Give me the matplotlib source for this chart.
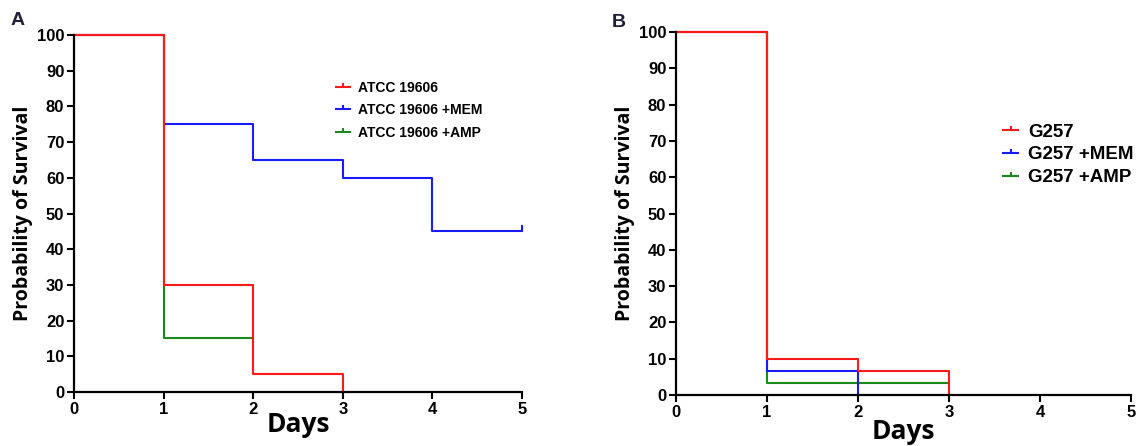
import matplotlib
matplotlib.use("Agg")
import matplotlib.pyplot as plt
from matplotlib.path import Path
from matplotlib.lines import Line2D

# panel A data (days, % survival)
a_days_ctrl = [0, 1, 2, 3]
a_surv_ctrl = [100, 30, 5, 0]
a_days_mem = [0, 1, 2, 3, 4, 5]
a_surv_mem = [100, 75, 65, 60, 45, 45]
a_days_amp = [0, 1, 2]
a_surv_amp = [100, 15, 15]
a_names = ["ATCC 19606", "ATCC 19606 +MEM", "ATCC 19606 +AMP"]

# panel B data
b_days_ctrl = [0, 1, 2, 3]
b_surv_ctrl = [100, 10, 6.67, 0]
b_days_mem = [0, 1, 2]
b_surv_mem = [100, 6.67, 0]
b_days_amp = [0, 1, 3]
b_surv_amp = [100, 3.33, 3.33]
b_names = ["G257", "G257 +MEM", "G257 +AMP"]

colors = ["#ff1a1a", "#1a1aff", "#1a8a1a"]
x_ticks = [0, 1, 2, 3, 4, 5]
y_ticks = list(range(0, 101, 10))

# upward censor tick marker
tick_up = Path([(0, 0), (0, 1)], [Path.MOVETO, Path.LINETO])

fig = plt.figure(figsize=(11.37, 4.46), dpi=100)
axA = fig.add_axes([0.0651, 0.121, 0.394, 0.8005])
axB = fig.add_axes([0.5946, 0.1143, 0.4001, 0.8137])


def style_axes(ax, tick_size, xpad):
    ax.set_xlim(0, 5)
    ax.set_ylim(0, 100)
    ax.set_xticks(x_ticks)
    ax.set_yticks(y_ticks)
    for s in ["top", "right"]:
        ax.spines[s].set_visible(False)
    for s in ["left", "bottom"]:
        ax.spines[s].set_linewidth(1.6)
    ax.tick_params(direction="out", length=5, width=1.5, pad=2)
    for lab in ax.get_xticklabels() + ax.get_yticklabels():
        lab.set_fontfamily("Liberation Sans")
        lab.set_fontweight("bold")
        lab.set_fontsize(tick_size)
    ax.set_xlabel("Days", fontfamily="Open Sans", fontweight="bold", fontsize=19, labelpad=xpad)
    ax.set_ylabel("Probability of Survival", fontfamily="Open Sans", fontweight="bold", fontsize=14, labelpad=3)


# panel A
axA.step(a_days_amp, a_surv_amp, where="post", color=colors[2], lw=1.5, clip_on=False)
axA.step(a_days_mem, a_surv_mem, where="post", color=colors[1], lw=1.5, clip_on=False)
axA.plot(a_days_mem[-1], a_surv_mem[-1], marker=tick_up, ms=8, mew=1.5, color=colors[1], clip_on=False)
axA.step(a_days_ctrl, a_surv_ctrl, where="post", color=colors[0], lw=1.5, clip_on=False)
style_axes(axA, 12, -4)

# panel B
axB.step(b_days_amp, b_surv_amp, where="post", color=colors[2], lw=1.5, clip_on=False)
axB.step(b_days_mem, b_surv_mem, where="post", color=colors[1], lw=1.5, clip_on=False)
axB.step(b_days_ctrl, b_surv_ctrl, where="post", color=colors[0], lw=1.5, clip_on=False)
style_axes(axB, 12, -1)


def make_handles():
    return [Line2D([], [], color=c, lw=1.5, marker=tick_up, ms=6, mew=1.5) for c in colors]


axA.legend(make_handles(), a_names, loc="upper left", bbox_to_anchor=(0.585, 0.872),
           frameon=False, prop=dict(family="Liberation Sans", weight="bold", size=10),
           handlelength=1.0, handletextpad=0.6, labelspacing=0.62, borderpad=0, borderaxespad=0)
axB.legend(make_handles(), b_names, loc="upper left", bbox_to_anchor=(0.719, 0.748),
           frameon=False, prop=dict(family="Liberation Sans", weight="bold", size=13.5),
           handlelength=0.8, handletextpad=0.55, labelspacing=0.3, borderpad=0, borderaxespad=0)

fig.text(0.009, 0.955, "A", fontfamily="Liberation Sans", fontweight="bold", fontsize=14, color="#1f1f3a", va="center")
fig.text(0.538, 0.95, "B", fontfamily="Liberation Sans", fontweight="bold", fontsize=14, color="#1f1f3a", va="center")

fig.savefig("out.png", dpi=100)
